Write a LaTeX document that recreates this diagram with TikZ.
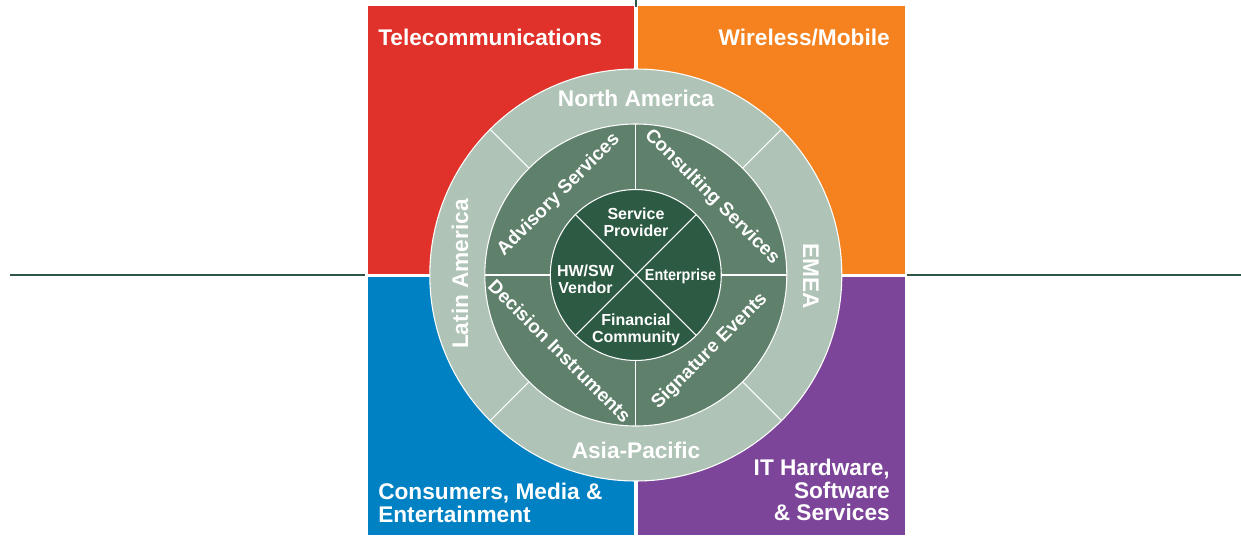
\documentclass[tikz,border=0pt]{standalone}
\usepackage{fontspec}
\setmainfont{Liberation Sans}
\usetikzlibrary{calc}
\definecolor{telred}{HTML}{E0322A}
\definecolor{wirorange}{HTML}{F5821F}
\definecolor{conblue}{HTML}{0081C4}
\definecolor{itpurple}{HTML}{7D4599}
\definecolor{ringlight}{HTML}{AFC3B6}
\definecolor{ringmid}{HTML}{5F806B}
\definecolor{ringinner}{HTML}{2D5A42}
\definecolor{axisgreen}{HTML}{2E5545}
\begin{document}
\begin{tikzpicture}[x=0.75pt,y=-0.75pt,
  quadlabel/.style={text=white,font=\bfseries\fontsize{17}{17}\selectfont,inner sep=0pt},
  ringlabel/.style={text=white,font=\bfseries\fontsize{17}{17}\selectfont,inner sep=0pt},
  midlabel/.style={text=white,font=\bfseries\fontsize{14.2}{14.2}\selectfont,inner sep=0pt},
  innerlabel/.style={text=white,font=\bfseries\fontsize{12}{12.75}\selectfont,inner sep=0pt,align=center},
  divider/.style={draw=white,line width=0.8pt},
  axisline/.style={draw=axisgreen,line width=1.5pt}]
\useasboundingbox (0,0) rectangle (1241,535);
% axis lines
\coordinate (lA) at (10,275);
\coordinate (lB) at (365,275);
\coordinate (rA) at (907,275);
\coordinate (rB) at (1241,275);
\coordinate (tA) at (635.8,0);
\coordinate (tB) at (635.8,7);
\draw[axisline] (lA) -- (lB);
\draw[axisline] (rA) -- (rB);
\draw[axisline] (tA) -- (tB);
% quadrants
\fill[telred] (368,6.5) rectangle (634,273.5);
\fill[wirorange] (637.5,6.5) rectangle (904.5,273.5);
\fill[conblue] (368,276.5) rectangle (634,535);
\fill[itpurple] (637.5,276.5) rectangle (904.5,535);
% rings
\coordinate (c) at (635.8,275);
\filldraw[fill=ringlight,draw=white,line width=0.8pt] (c) circle[radius=154.5pt];
\filldraw[fill=ringmid,draw=white,line width=0.8pt] (c) circle[radius=113.25pt];
\filldraw[fill=ringinner,draw=white,line width=0.8pt] (c) circle[radius=64.1pt];
% outer dividers
\draw[divider] ($(c)+(106.8,106.8)$) -- ($(c)+(145.7,145.7)$);
\draw[divider] ($(c)+(-106.8,106.8)$) -- ($(c)+(-145.7,145.7)$);
\draw[divider] ($(c)+(106.8,-106.8)$) -- ($(c)+(145.7,-145.7)$);
\draw[divider] ($(c)+(-106.8,-106.8)$) -- ($(c)+(-145.7,-145.7)$);
% middle dividers
\draw[divider] ($(c)+(85.5,0)$) -- ($(c)+(151,0)$);
\draw[divider] ($(c)+(-85.5,0)$) -- ($(c)+(-151,0)$);
\draw[divider] ($(c)+(0,85.5)$) -- ($(c)+(0,151)$);
\draw[divider] ($(c)+(0,-85.5)$) -- ($(c)+(0,-151)$);
% inner dividers
\draw[divider] ($(c)+(60.5,60.5)$) -- ($(c)+(-60.5,-60.5)$);
\draw[divider] ($(c)+(60.5,-60.5)$) -- ($(c)+(-60.5,60.5)$);
% quadrant labels
\node[quadlabel,anchor=base west] (tel) at (378,46) {Telecommunications};
\node[quadlabel,anchor=base east] (wir) at (890,46) {Wireless/Mobile};
\node[quadlabel,anchor=west,align=left] (con) at (378,503) {Consumers, Media \&\\Entertainment};
\node[quadlabel,anchor=east,align=right] (itl) at (890,490) {IT Hardware,\\Software\\\& Services};
% outer ring labels
\node[ringlabel,anchor=base] (na) at (636,106) {North America};
\node[ringlabel,anchor=base] (ap) at (636,458) {Asia-Pacific};
\node[ringlabel,rotate=90] (la) at (460,274) {Latin America};
\node[ringlabel,rotate=-90] (em) at (811,276.5) {EMEA};
% middle ring labels
\node[midlabel,rotate=45] (adv) at ($(c)+(-77,-80)$) {Advisory Services};
\node[midlabel,rotate=-45] (cons) at ($(c)+(76,-78)$) {Consulting Services};
\node[midlabel,rotate=-45] (dec) at ($(c)+(-76,76)$) {Decision Instruments};
\node[midlabel,rotate=45] (sig) at ($(c)+(74,76)$) {Signature Events};
% inner labels
\node[innerlabel] (sp) at (636,222.5) {Service\\Provider};
\node[innerlabel] (hw) at (585.5,279) {HW/SW\\Vendor};
\node[innerlabel,xscale=0.9] (ent) at (680.5,276) {Enterprise};
\node[innerlabel] (fc) at (636,330) {Financial\\Community};
\end{tikzpicture}
\end{document}
